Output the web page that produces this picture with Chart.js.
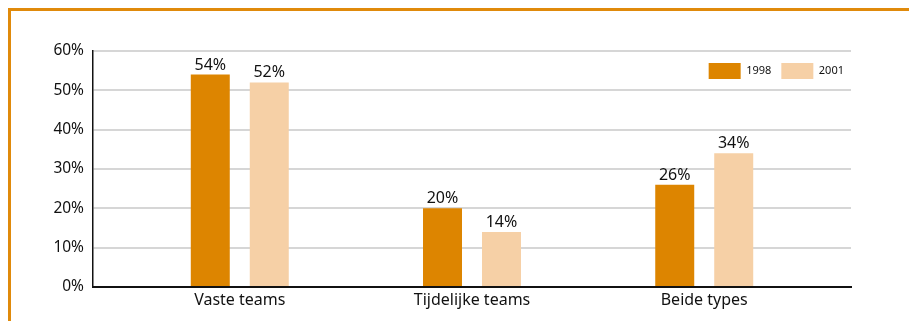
<!DOCTYPE html>
<html>
<head>
<meta charset="utf-8">
<script src="https://cdn.jsdelivr.net/npm/chart.js@4"></script>
<style>
  html, body { margin: 0; padding: 0; background: #fff; }
  #wrap { position: relative; width: 909px; height: 321px; overflow: hidden; }
  #frame {
    position: absolute; left: 8px; top: 8px; right: -10px; bottom: -10px;
    border-top: 3px solid #e08a0b; border-left: 3px solid #e08a0b;
    pointer-events: none;
  }
  canvas { position: absolute; left: 0; top: 0; }
</style>
</head>
<body>
<div id="wrap">
  <canvas id="c" width="909" height="321"></canvas>
  <div id="frame"></div>
</div>
<script>
// Team types and the share of organisations using them
const categories = ['Vaste teams', 'Tijdelijke teams', 'Beide types'];
const seriesNames = ['1998', '2001'];
const values1998 = [54, 20, 26];
const values2001 = [52, 14, 34];
const yMin = 0, yMax = 60, yStep = 10;

const TEXT = '#111';
const FONT = '"Noto Sans", "DejaVu Sans", sans-serif';

// Legend sits inside the plot, just under the top gridline, flush with its right edge
const legendInside = {
  id: 'legendInside',
  afterLayout(chart) {
    const lg = chart.legend;
    if (!lg) return;
    const dy = chart.chartArea.top + 2 - lg.top;
    const dx = chart.chartArea.right + 3 - lg.right;
    lg.top += dy;
    lg.bottom += dy;
    lg.left += dx;
    lg.right += dx;
  }
};

// Percentage printed above each bar
const barValueLabels = {
  id: 'barValueLabels',
  afterDatasetsDraw(chart) {
    const ctx = chart.ctx;
    ctx.save();
    ctx.font = '16px ' + FONT;
    ctx.fillStyle = TEXT;
    ctx.textAlign = 'center';
    ctx.textBaseline = 'alphabetic';
    chart.data.datasets.forEach((ds, di) => {
      chart.getDatasetMeta(di).data.forEach((bar, i) => {
        ctx.fillText(ds.data[i].y + '%', bar.x, bar.y - 5);
      });
    });
    ctx.restore();
  }
};

const toPoints = vals => vals.map((v, i) => ({ x: i, y: v }));

new Chart(document.getElementById('c'), {
  type: 'bar',
  data: {
    datasets: [
      { label: seriesNames[0], data: toPoints(values1998), backgroundColor: '#dd8500' },
      { label: seriesNames[1], data: toPoints(values2001), backgroundColor: '#f6d0a6' }
    ]
  },
  options: {
    responsive: false,
    animation: false,
    devicePixelRatio: 1,
    categoryPercentage: 0.508,
    barPercentage: 0.661,
    layout: { padding: { left: 0, right: 58, top: 15, bottom: 0 } },
    plugins: {
      tooltip: { enabled: false },
      legend: {
        position: 'top',
        align: 'end',
        labels: {
          boxWidth: 32,
          boxHeight: 16,
          padding: 10,
          color: TEXT,
          font: { family: FONT, size: 11 }
        }
      }
    },
    scales: {
      x: {
        type: 'linear',
        offset: false,
        min: -0.632,
        max: 2.632,
        grid: { display: false, drawTicks: false },
        border: { display: true, color: '#111', width: 2 },
        ticks: {
          stepSize: 1,
          includeBounds: false,
          autoSkip: false,
          maxRotation: 0,
          padding: 4,
          color: TEXT,
          font: { family: FONT, size: 16 },
          callback: v => categories[v] ?? ''
        },
        afterFit(s) { s.height = 34; }
      },
      y: {
        min: yMin,
        max: yMax,
        grid: { color: '#d6d6d6', lineWidth: 2, drawTicks: false },
        border: { display: true, color: '#111', width: 1.5 },
        ticks: {
          stepSize: yStep,
          padding: 9,
          color: TEXT,
          font: { family: FONT, size: 15.5 },
          callback: v => v + '%'
        },
        afterFit(s) { s.width = 93; }
      }
    }
  },
  plugins: [legendInside, barValueLabels]
});
</script>
</body>
</html>
